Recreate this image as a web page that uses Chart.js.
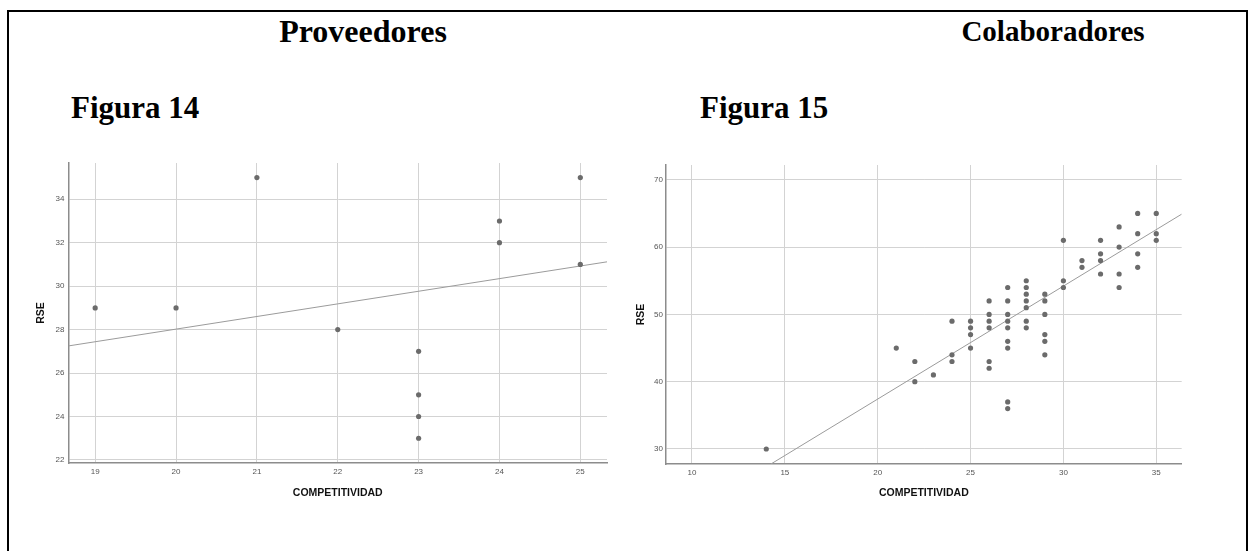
<!DOCTYPE html>
<html>
<head>
<meta charset="utf-8">
<script src="https://cdn.jsdelivr.net/npm/chart.js@4/dist/chart.umd.min.js"></script>
<style>
    body { margin: 0; background: #fff; width: 1255px; height: 551px; overflow: hidden; position: relative; }
    .frame { position: absolute; left: 7px; top: 10px; width: 1237px; height: 600px; border: 2px solid #000; border-bottom: none; }
    .head { position: absolute; font-family: "Liberation Serif", "Times New Roman", serif; font-weight: bold; color: #000; white-space: nowrap; line-height: 1; }
    canvas { position: absolute; }
</style>
</head>
<body>
<div class="frame"></div>
<div class="head" style="left:363px; top:15px; font-size:32px; transform:translateX(-50%);">Proveedores</div>
<div class="head" style="left:1053px; top:17px; font-size:29px; transform:translateX(-50%);">Colaboradores</div>
<div class="head" style="left:71px; top:92px; font-size:31px;">Figura 14</div>
<div class="head" style="left:700px; top:92px; font-size:31px;">Figura 15</div>
<canvas id="chartProv" width="610" height="360" style="left:20px; top:150px;"></canvas>
<canvas id="chartCol" width="600" height="360" style="left:630px; top:150px;"></canvas>
<script>
// Figura 14 - Proveedores
const provX = [19, 20, 21, 22, 23, 23, 23, 23, 24, 24, 25, 25];
const provY = [29, 29, 35, 28, 27, 25, 24, 23, 33, 32, 35, 31];
const provFitX = [18.67, 25.33];
const provFitY = [27.25, 31.12];

// Figura 15 - Colaboradores
const colX = [14,
    21, 22, 22, 23,
    24, 24, 24,
    25, 25, 25, 25,
    26, 26, 26, 26, 26, 26,
    27, 27, 27, 27, 27, 27, 27, 27, 27,
    28, 28, 28, 28, 28, 28, 28,
    29, 29, 29, 29, 29, 29,
    30, 30, 30, 31, 31,
    32, 32, 32, 32,
    33, 33, 33, 33,
    34, 34, 34, 34,
    35, 35, 35];
const colY = [30,
    45, 43, 40, 41,
    49, 44, 43,
    49, 48, 47, 45,
    52, 50, 49, 48, 43, 42,
    54, 52, 50, 49, 48, 46, 45, 37, 36,
    55, 54, 53, 52, 51, 49, 48,
    53, 52, 50, 47, 46, 44,
    61, 55, 54, 58, 57,
    61, 59, 58, 56,
    63, 60, 56, 54,
    65, 62, 59, 57,
    65, 62, 61];
const colFitX = [14.25, 36.37];
const colFitY = [27.77, 64.9];

const tickFont = { family: "'Liberation Sans', Arial, sans-serif", size: 8 };
const titleFont = { family: "'Liberation Sans', Arial, sans-serif", size: 10.5, weight: 'bold' };

function toPoints(xs, ys) {
    return xs.map((x, i) => ({ x: x, y: ys[i] }));
}

function buildChart(id, s) {
    const ctx = document.getElementById(id).getContext("2d");
    return new Chart(ctx, {
        type: 'scatter',
        data: {
            datasets: [{
                data: toPoints(s.xs, s.ys),
                backgroundColor: '#6b6b6b',
                borderWidth: 0,
                pointRadius: 2.6
            }, {
                type: 'line',
                data: toPoints(s.fitX, s.fitY),
                borderColor: '#9b9b9b',
                borderWidth: 1,
                pointRadius: 0,
                fill: false
            }]
        },
        options: {
            responsive: false,
            animation: false,
            devicePixelRatio: 1,
            layout: { padding: s.pad },
            plugins: { legend: { display: false }, tooltip: { enabled: false } },
            scales: {
                x: {
                    type: 'linear',
                    min: s.xMin, max: s.xMax,
                    afterFit: sc => { sc.height = s.xH; },
                    ticks: { stepSize: s.xStep, includeBounds: false, autoSkip: false, padding: 4, color: '#555', font: tickFont },
                    grid: { color: '#d3d3d3', lineWidth: 1, drawTicks: false },
                    border: { color: '#8c8c8c', width: 1.5 },
                    title: { display: true, text: 'COMPETITIVIDAD', color: '#111', font: titleFont, padding: { top: 0, bottom: 11 } }
                },
                y: {
                    min: s.yMin, max: s.yMax,
                    afterFit: sc => { sc.width = s.yW; },
                    ticks: { stepSize: s.yStep, includeBounds: false, autoSkip: false, padding: s.yPad, color: '#555', font: tickFont },
                    grid: { color: '#d3d3d3', lineWidth: 1, drawTicks: false },
                    border: { color: '#8c8c8c', width: 1.5 },
                    title: { display: true, text: 'RSE', color: '#111', font: titleFont, padding: { top: s.yTitlePad, bottom: 0 } }
                }
            }
        }
    });
}

buildChart("chartProv", {
    xs: provX, ys: provY, fitX: provFitX, fitY: provFitY,
    xMin: 18.67, xMax: 25.33, xStep: 1,
    yMin: 21.86, yMax: 35.67, yStep: 2,
    yW: 48.5, xH: 47, yPad: 4, yTitlePad: 14.7,
    pad: { left: 0, top: 13, right: 23, bottom: 0 }
});

buildChart("chartCol", {
    xs: colX, ys: colY, fitX: colFitX, fitY: colFitY,
    xMin: 8.6, xMax: 36.37, xStep: 5,
    yMin: 27.77, yMax: 72.2, yStep: 10,
    yW: 36, xH: 46, yPad: 3, yTitlePad: 4.7,
    pad: { left: 0, top: 15, right: 48.3, bottom: 0 }
});
</script>
</body>
</html>
